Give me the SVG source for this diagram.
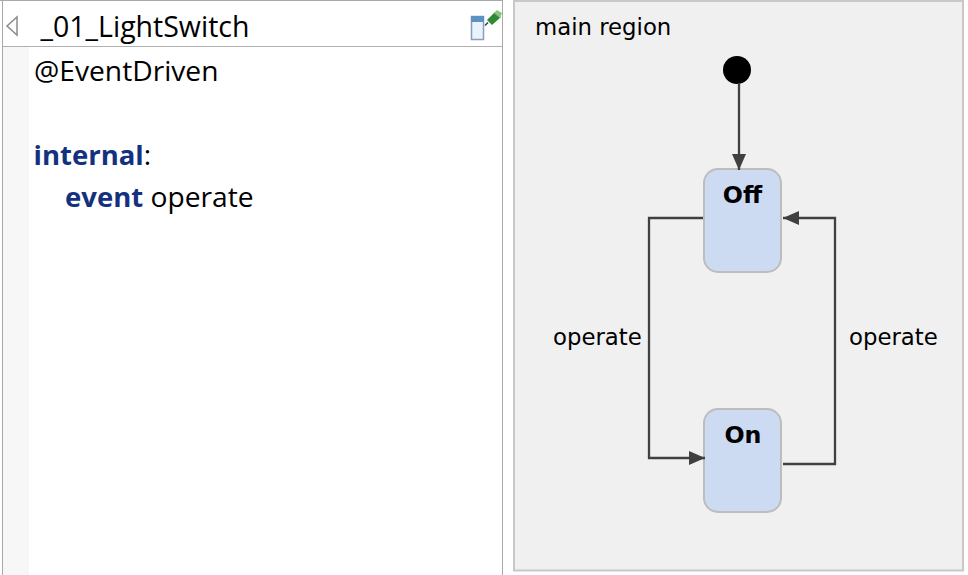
<svg xmlns="http://www.w3.org/2000/svg" width="968" height="575" viewBox="0 0 968 575">
<style>
.ed{font-family:"Open Sans","Noto Sans",sans-serif;font-size:28.200px;fill:#000}
.ti{font-size:28.500px}
.kw{font-weight:700;fill:#14317f;font-size:27.500px}
.lb{font-family:"DejaVu Sans",Verdana,sans-serif;font-size:22.800px;fill:#000}
.nm{font-family:"DejaVu Sans",Verdana,sans-serif;font-size:23.700px;font-weight:700;fill:#000;text-anchor:middle}
.st{fill:#ccdaf2;stroke:#bdbdbd;stroke-width:2}
.cn{fill:none;stroke:#404040;stroke-width:2.300}
</style>
<defs>
<marker id="arrow" markerUnits="userSpaceOnUse" markerWidth="18" markerHeight="16" refX="16" refY="7" orient="auto">
<path d="M0 0L16 7L0 14Z" fill="#404040"/>
</marker>
</defs>
<rect width="968" height="575" fill="#fff"/>
<g id="editor">
<rect x="3" y="47" width="26" height="528" fill="#f7f7f7"/>
<path d="M0 .5H502.500M2.500 0V575M502.500 0V575" fill="none" stroke="#a9a9a9" stroke-width="1"/>
<path d="M3 46.500H502" stroke="#b0b0b0" stroke-width="1" fill="none"/>
<path d="M17 17V35L7 26Z" fill="#fff" stroke="#8c8c8c" stroke-width="1.500"/>
<rect x="471.500" y="16.500" width="12" height="23" fill="#e8f3fb" stroke="#8c9db8" stroke-width="1.500"/>
<rect x="471" y="16" width="13" height="6" fill="#5d91c4"/>
<path d="M487 20L495 12L501 17L492 25Z" fill="#2f8a32"/>
<path d="M494 13L497 10L502 13L500 18Z" fill="#88c57a"/>
<path d="M485 25.500L488 22.500" stroke="#1d3a70" stroke-width="1.500" fill="none"/>
<text class="ed ti" x="40.500" y="37">_01_LightSwitch</text>
<text class="ed" x="34" y="81">@EventDriven</text>
<text class="ed" x="33.500" y="165"><tspan class="kw">internal</tspan>:</text>
<text class="ed" x="65" y="207"><tspan class="kw">event</tspan> operate</text>
</g>
<g id="main-region">
<rect x="514" y="1" width="449" height="569.500" fill="#f0f0f0" stroke="#c8c8c8" stroke-width="2"/>
<text class="lb" x="535" y="35">main region</text>
</g>
<g id="initial"><circle cx="737" cy="70" r="14" fill="#000"/></g>
<g id="state-off">
<rect class="st" x="704" y="169" width="77" height="103" rx="14"/>
<text class="nm" x="742.500" y="203">Off</text>
</g>
<g id="state-on">
<rect class="st" x="704" y="409" width="77" height="103" rx="14"/>
<text class="nm" x="743" y="443">On</text>
</g>
<g id="connectors">
<path class="cn" d="M739 83V170" marker-end="url(#arrow)"/>
<path class="cn" d="M703 218H649V458H705" marker-end="url(#arrow)"/>
<path class="cn" d="M783 464H835V218H783" marker-end="url(#arrow)"/>
<text class="lb" x="553" y="345">operate</text>
<text class="lb" x="849" y="345">operate</text>
</g>
</svg>
